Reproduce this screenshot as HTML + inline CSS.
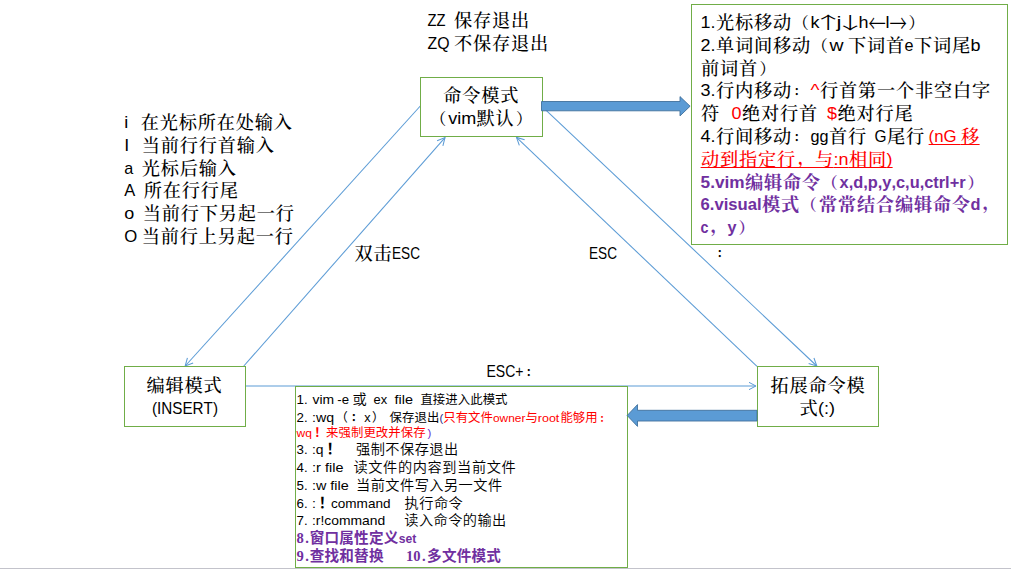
<!DOCTYPE html>
<html lang="zh-CN">
<head>
<meta charset="utf-8">
<title>vim 模式</title>
<style>
html,body{margin:0;padding:0;background:#fff;overflow:hidden}
svg{display:block}
text{white-space:pre;text-spacing-trim:space-all;font-kerning:none}
.ls{font-family:"Liberation Sans","Noto Sans CJK SC",sans-serif}
.lf{font-family:"Liberation Serif","Noto Serif CJK SC",serif}
.ar{font-family:"Noto Sans CJK SC","Liberation Sans",sans-serif}
.cj{font-family:"Liberation Serif","Noto Serif CJK SC","Noto Sans CJK SC",serif}
.cs{font-family:"Liberation Sans","Noto Sans CJK SC","Noto Serif CJK SC",sans-serif}
</style>
</head>
<body>
<svg width="1011" height="569" viewBox="0 0 1011 569">
<rect x="0" y="0" width="1011" height="569" fill="#fff"/>
<line x1="420.3" y1="106.0" x2="185.2" y2="366.0" stroke="#5b9bd5" stroke-width="1.05"/>
<polyline points="187.42,357.79 185.2,366.0 193.14,362.97" fill="none" stroke="#5b9bd5" stroke-width="1.05"/>
<line x1="243.8" y1="366.0" x2="445.0" y2="137.6" stroke="#5b9bd5" stroke-width="1.05"/>
<polyline points="442.89,145.83 445.0,137.6 437.10,140.73" fill="none" stroke="#5b9bd5" stroke-width="1.05"/>
<line x1="543.0" y1="107.3" x2="816.8" y2="366.0" stroke="#5b9bd5" stroke-width="1.05"/>
<polyline points="808.64,363.60 816.8,366.0 813.95,357.99" fill="none" stroke="#5b9bd5" stroke-width="1.05"/>
<line x1="757.0" y1="366.3" x2="516.5" y2="137.4" stroke="#5b9bd5" stroke-width="1.05"/>
<polyline points="524.65,139.83 516.5,137.4 519.33,145.42" fill="none" stroke="#5b9bd5" stroke-width="1.05"/>
<line x1="246.0" y1="386.0" x2="755.9" y2="386.0" stroke="#5b9bd5" stroke-width="1.0"/>
<polyline points="749.01,389.66 755.9,386.0 749.01,382.34" fill="none" stroke="#5b9bd5" stroke-width="1.0"/>
<rect x="420.5" y="77.5" width="122" height="59" fill="#fff" stroke="#70ad47" stroke-width="1"/>
<rect x="124.5" y="366.5" width="121" height="60" fill="#fff" stroke="#70ad47" stroke-width="1"/>
<rect x="757.5" y="366.5" width="121" height="60" fill="#fff" stroke="#70ad47" stroke-width="1"/>
<rect x="691.5" y="4.5" width="316" height="240" fill="#fff" stroke="#70ad47" stroke-width="1"/>
<rect x="295.5" y="386.5" width="332" height="181" fill="#fff" stroke="#70ad47" stroke-width="1"/>
<polygon points="541.5,101.5 680,101.5 680,96.6 690.1,106.2 680,115.9 680,110.8 541.5,110.8" fill="#5b9bd5" stroke="#41719c" stroke-width="0.9" stroke-linejoin="miter"/>
<polygon points="757,410.3 637.5,410.3 637.5,404.6 627.2,415.5 637.5,426.4 637.5,421 757,421" fill="#5b9bd5" stroke="#41719c" stroke-width="0.9" stroke-linejoin="miter"/>
<rect x="0" y="568" width="1011" height="1" fill="#c3c3cb"/>
<g><text x="427.6" y="26" font-size="17.39" class="ls" textLength="26.19" lengthAdjust="spacingAndGlyphs">ZZ  </text><text x="454 473 492 511" y="26.6" font-size="18.2" class="cj" font-weight="500">保存退出</text></g>
<g><text x="427.6" y="49" font-size="17.39" class="ls" textLength="26.4" lengthAdjust="spacingAndGlyphs">ZQ </text><text x="454 473 492 511 530" y="49.6" font-size="18.2" class="cj" font-weight="500">不保存退出</text></g>
<g><text x="124.3" y="128" font-size="17.39" class="ls" textLength="19.01" lengthAdjust="spacingAndGlyphs">i   </text><text x="140.7 159.7 178.7 197.7 216.7 235.7 254.7 273.7" y="128.6" font-size="18.2" class="cj" font-weight="500">在光标所在处输入</text></g>
<g><text x="124.3" y="151" font-size="17.39" class="ls" textLength="20" lengthAdjust="spacingAndGlyphs">I   </text><text x="141.7 160.7 179.7 198.7 217.7 236.7 255.7" y="151.6" font-size="18.2" class="cj" font-weight="500">当前行行首输入</text></g>
<g><text x="124.3" y="174" font-size="17.39" class="ls" textLength="17.99" lengthAdjust="spacingAndGlyphs">a  </text><text x="141.7 160.7 179.7 198.7 217.7" y="174.6" font-size="18.2" class="cj" font-weight="500">光标后输入</text></g>
<g><text x="124.3" y="196" font-size="17.39" class="ls" textLength="20.16" lengthAdjust="spacingAndGlyphs">A  </text><text x="143.7 162.7 181.7 200.7 219.7" y="196.6" font-size="18.2" class="cj" font-weight="500">所在行行尾</text></g>
<g><text x="124.3" y="219" font-size="17.39" class="ls" textLength="19.99" lengthAdjust="spacingAndGlyphs">o  </text><text x="142.7 161.7 180.7 199.7 218.7 237.7 256.7 275.7" y="219.6" font-size="18.2" class="cj" font-weight="500">当前行下另起一行</text></g>
<g><text x="124.3" y="242" font-size="17.39" class="ls" textLength="17.64" lengthAdjust="spacingAndGlyphs">O </text><text x="141.7 160.7 179.7 198.7 217.7 236.7 255.7 274.7" y="242.6" font-size="18.2" class="cj" font-weight="500">当前行上另起一行</text></g>
<g><text x="443.3 462.3 481.3 500.3" y="101.6" font-size="18.2" class="cj" font-weight="500">命令模式</text></g>
<g><text x="430.34" y="124" font-size="15.96" class="cj" font-weight="500">（</text><text x="448.2" y="124" font-size="17.39" class="ls" textLength="28" lengthAdjust="spacingAndGlyphs">vim</text><text x="476.6 495.6" y="124.6" font-size="18.2" class="cj" font-weight="500">默认</text><text x="516.1" y="124" font-size="15.96" class="cj" font-weight="500">）</text></g>
<g><text x="146.6 165.6 184.6 203.6" y="391.6" font-size="18.2" class="cj" font-weight="500">编辑模式</text></g>
<g><text x="152" y="414" font-size="17.39" class="ls" textLength="66" lengthAdjust="spacingAndGlyphs">(INSERT)</text></g>
<g><text x="770.4 789.4 808.4 827.4 846.4" y="391.6" font-size="18.2" class="cj" font-weight="500">拓展命令模</text></g>
<g><text x="799.4" y="414.6" font-size="18.2" class="cj" font-weight="500">式</text><text x="818" y="414" font-size="17.39" class="ls" textLength="17" lengthAdjust="spacingAndGlyphs">(:)</text></g>
<g><text x="354.4 373.4" y="259.6" font-size="18.2" class="cj" font-weight="500">双击</text><text x="392" y="259" font-size="17.39" class="ls" textLength="28" lengthAdjust="spacingAndGlyphs">ESC</text></g>
<g><text x="589" y="259" font-size="17.39" class="ls" textLength="28" lengthAdjust="spacingAndGlyphs">ESC</text></g>
<g><text x="486.5" y="377" font-size="17.39" class="ls" textLength="37" lengthAdjust="spacingAndGlyphs">ESC+</text><text x="525.39" y="377" font-size="12.16" class="cj" font-weight="700">：</text></g>
<g><text x="716.49" y="258" font-size="12.16" class="cj" font-weight="700">：</text></g>
<g><text x="700.6" y="28" font-size="17.39" class="ls" textLength="15" lengthAdjust="spacingAndGlyphs">1.</text><text x="716 735 754 773" y="28.6" font-size="18.2" class="cj" font-weight="500">光标移动</text><text x="792.74" y="28" font-size="15.96" class="cj" font-weight="500">（</text><text x="810.6" y="28" font-size="17.39" class="ls" textLength="9" lengthAdjust="spacingAndGlyphs">k</text><text transform="translate(828.1,28.5) scale(1.9,1.0)" x="-8.4" y="0" font-size="16.8" class="ar" font-weight="200">↑</text><text x="836.6" y="28" font-size="17.39" class="ls" textLength="5" lengthAdjust="spacingAndGlyphs">j</text><text transform="translate(850.1,28.5) scale(1.9,1.0)" x="-8.4" y="0" font-size="16.8" class="ar" font-weight="200">↓</text><text x="858.6" y="28" font-size="17.39" class="ls" textLength="10" lengthAdjust="spacingAndGlyphs">h</text><text transform="translate(877.1,31.9) scale(1.0,1.35)" x="-8.65" y="0" font-size="17.3" class="ar" font-weight="300">←</text><text x="885.6" y="28" font-size="17.39" class="ls" textLength="4" lengthAdjust="spacingAndGlyphs">l</text><text transform="translate(898.1,31.9) scale(1.0,1.35)" x="-8.65" y="0" font-size="17.3" class="ar" font-weight="300">→</text><text x="908.5" y="28" font-size="15.96" class="cj" font-weight="500">）</text></g>
<g><text x="700.6" y="51" font-size="17.39" class="ls" textLength="15" lengthAdjust="spacingAndGlyphs">2.</text><text x="716 735 754 773 792" y="51.6" font-size="18.2" class="cj" font-weight="500">单词间移动</text><text x="811.74" y="51" font-size="15.96" class="cj" font-weight="500">（</text><text x="829.6" y="51" font-size="17.39" class="ls" textLength="19.39" lengthAdjust="spacingAndGlyphs">w </text><text x="848 867 886" y="51.6" font-size="18.2" class="cj" font-weight="500">下词首</text><text x="904.6" y="51" font-size="17.39" class="ls" textLength="9" lengthAdjust="spacingAndGlyphs">e</text><text x="914 933 952" y="51.6" font-size="18.2" class="cj" font-weight="500">下词尾</text><text x="970.6" y="51" font-size="17.39" class="ls" textLength="10" lengthAdjust="spacingAndGlyphs">b</text></g>
<g><text x="701 720 739" y="74.6" font-size="18.2" class="cj" font-weight="500">前词首</text><text x="759.5" y="74" font-size="15.96" class="cj" font-weight="500">）</text></g>
<g><text x="700.6" y="96" font-size="17.39" class="ls" textLength="15" lengthAdjust="spacingAndGlyphs">3.</text><text x="716 735 754 773" y="96.6" font-size="18.2" class="cj" font-weight="500">行内移动</text><text x="793.49" y="96" font-size="12.16" class="cj" font-weight="700">：</text><text x="810.6" y="96" font-size="17.39" class="ls" fill="#ff0000" textLength="9" lengthAdjust="spacingAndGlyphs">^</text><text x="820 839 858 877 896 915 934 953 972" y="96.6" font-size="18.2" class="cj" font-weight="500">行首第一个非空白字</text></g>
<g><text x="701" y="119.6" font-size="18.2" class="cj" font-weight="500">符</text><text x="719.6" y="119" font-size="17.39" class="ls">   </text><text x="731.6" y="119" font-size="17.39" class="ls" fill="#ff0000" textLength="10" lengthAdjust="spacingAndGlyphs">0</text><text x="742 761 780 799" y="119.6" font-size="18.2" class="cj" font-weight="500">绝对行首</text><text x="817.6" y="119" font-size="17.39" class="ls">  </text><text x="827.1" y="119" font-size="17.39" class="ls" fill="#ff0000" textLength="10" lengthAdjust="spacingAndGlyphs">$</text><text x="837.5 856.5 875.5 894.5" y="119.6" font-size="18.2" class="cj" font-weight="500">绝对行尾</text></g>
<g><text x="700.6" y="142" font-size="17.39" class="ls" textLength="15" lengthAdjust="spacingAndGlyphs">4.</text><text x="716 735 754 773" y="142.6" font-size="18.2" class="cj" font-weight="500">行间移动</text><text x="793.49" y="142" font-size="12.16" class="cj" font-weight="700">：</text><text x="810.6" y="142" font-size="17.39" class="ls" textLength="18" lengthAdjust="spacingAndGlyphs">gg</text><text x="829 848" y="142.6" font-size="18.2" class="cj" font-weight="500">首行</text><text x="866.03" y="142" font-size="17.39" class="ls" textLength="20.57" lengthAdjust="spacingAndGlyphs">  G</text><text x="887 906" y="142.6" font-size="18.2" class="cj" font-weight="500">尾行</text><text x="924.6" y="142" font-size="17.39" class="ls"> </text><text x="928.6" y="142" font-size="17.39" class="ls" fill="#ff0000" textLength="32.67" lengthAdjust="spacingAndGlyphs">(nG </text><rect x="928.6" y="144" width="32" height="1" fill="#ff0000"/><text x="961" y="142.6" font-size="18.2" class="cj" font-weight="500" fill="#ff0000">移</text><rect x="960.6" y="144" width="19" height="1" fill="#ff0000"/></g>
<g><text x="701 720 739 758 777" y="165.6" font-size="18.2" class="cj" font-weight="500" fill="#ff0000">动到指定行</text><text x="797.5" y="163.67" font-size="18.05" class="cj" font-weight="500" fill="#ff0000">，</text><text x="815" y="165.6" font-size="18.2" class="cj" font-weight="500" fill="#ff0000">与</text><rect x="700.6" y="167" width="133" height="1" fill="#ff0000"/><text x="833.6" y="165" font-size="17.39" class="ls" fill="#ff0000" textLength="15" lengthAdjust="spacingAndGlyphs">:n</text><rect x="833.6" y="167" width="15" height="1" fill="#ff0000"/><text x="849 868" y="165.6" font-size="18.2" class="cj" font-weight="500" fill="#ff0000">相同</text><rect x="848.6" y="167" width="38" height="1" fill="#ff0000"/><text x="886.6" y="165" font-size="17.39" class="ls" fill="#ff0000" textLength="6" lengthAdjust="spacingAndGlyphs">)</text><rect x="886.6" y="167" width="6" height="1" fill="#ff0000"/></g>
<g><text x="700.6" y="188" font-size="17.39" class="ls" fill="#7030a0" font-weight="700" textLength="44" lengthAdjust="spacingAndGlyphs">5.vim</text><text x="745 764 783 802" y="188.6" font-size="18.2" class="cj" font-weight="700" fill="#7030a0">编辑命令</text><text x="821.74" y="188" font-size="15.96" class="cj" font-weight="700" fill="#7030a0">（</text><text x="839.6" y="188" font-size="17.39" class="ls" fill="#7030a0" font-weight="700" textLength="126" lengthAdjust="spacingAndGlyphs">x,d,p,y,c,u,ctrl+r</text><text x="967.5" y="188" font-size="15.96" class="cj" font-weight="700" fill="#7030a0">）</text></g>
<g><text x="700.6" y="210" font-size="17.39" class="ls" fill="#7030a0" font-weight="700" textLength="61" lengthAdjust="spacingAndGlyphs">6.visual</text><text x="762 781" y="210.6" font-size="18.2" class="cj" font-weight="700" fill="#7030a0">模式</text><text x="800.74" y="210" font-size="15.96" class="cj" font-weight="700" fill="#7030a0">（</text><text x="819 838 857 876 895 914 933 952" y="210.6" font-size="18.2" class="cj" font-weight="700" fill="#7030a0">常常结合编辑命令</text><text x="970.6" y="210" font-size="17.39" class="ls" fill="#7030a0" font-weight="700" textLength="10" lengthAdjust="spacingAndGlyphs">d</text><text x="982.5" y="208.67" font-size="18.05" class="cj" font-weight="700" fill="#7030a0">，</text></g>
<g><text x="700.6" y="233" font-size="17.39" class="ls" fill="#7030a0" font-weight="700" textLength="8" lengthAdjust="spacingAndGlyphs">c</text><text x="710.5" y="231.67" font-size="18.05" class="cj" font-weight="700" fill="#7030a0">，</text><text x="727.6" y="233" font-size="17.39" class="ls" fill="#7030a0" font-weight="700" textLength="9" lengthAdjust="spacingAndGlyphs">y</text><text x="738.5" y="233" font-size="15.96" class="cj" font-weight="700" fill="#7030a0">）</text></g>
<g><text x="296.5" y="404" font-size="13.36" class="ls" textLength="14.78" lengthAdjust="spacingAndGlyphs">1. </text><text x="312.6" y="404" font-size="13.36" class="ls" textLength="25.47" lengthAdjust="spacingAndGlyphs">vim </text><text x="337.3" y="404" font-size="13.36" class="ls" textLength="15.4" lengthAdjust="spacingAndGlyphs">-e </text><text x="352.43" y="404" font-size="14.2" class="cs" font-weight="350">或</text><text x="366.85" y="404" font-size="13.36" class="ls">  </text><text x="373.6" y="404" font-size="13.36" class="ls" textLength="20.74" lengthAdjust="spacingAndGlyphs">ex  </text><text x="394.6" y="404" font-size="13.36" class="ls" textLength="26.43" lengthAdjust="spacingAndGlyphs">file  </text><text x="420.42 432.87 445.32 457.77 470.22 482.67 495.12" y="404.3" font-size="12.4" class="cs" font-weight="400">直接进入此模式</text></g>
<g><text x="296.5" y="422" font-size="13.36" class="ls" textLength="14.78" lengthAdjust="spacingAndGlyphs">2. </text><text x="312" y="422" font-size="13.36" class="ls" textLength="22.01" lengthAdjust="spacingAndGlyphs">:wq</text><text x="335.47" y="422" font-size="12.26" class="cs">（</text><text x="350.56" y="422" font-size="12.41" class="cj" font-weight="700">：</text><text x="364.31" y="422" font-size="13.36" class="ls" textLength="6.32" lengthAdjust="spacingAndGlyphs">x</text><text x="372.1" y="422" font-size="12.26" class="cs">）</text><text x="385.29" y="422" font-size="13.36" class="ls"> </text><text x="389.62 402.07 414.52 426.98" y="422.3" font-size="12.4" class="cs" font-weight="400">保存退出</text><text x="439.4" y="422" font-size="11.35" class="ls" fill="#2a2a8a" textLength="3.76" lengthAdjust="spacingAndGlyphs">(</text><text x="443.18 455.63 468.08 480.53" y="422.3" font-size="12.4" class="cs" font-weight="400" fill="#ff0000">只有文件</text><text x="492.96" y="422" font-size="11.35" class="ls" fill="#ff0000" textLength="32.41" lengthAdjust="spacingAndGlyphs">owner</text><text x="525.4" y="422.3" font-size="12.4" class="cs" font-weight="400" fill="#ff0000">与</text><text x="537.82" y="422" font-size="11.35" class="ls" fill="#ff0000" textLength="21.55" lengthAdjust="spacingAndGlyphs">root</text><text x="560.4 572.85 585.3" y="422.3" font-size="12.4" class="cs" font-weight="400" fill="#ff0000">能够用</text><text x="599.34" y="422" font-size="10.54" class="cj" font-weight="700" fill="#ff0000">：</text></g>
<g><text x="296.5" y="437" font-size="11.35" class="ls" fill="#ff0000" textLength="15.38" lengthAdjust="spacingAndGlyphs">wq</text><text x="314.36" y="437.3" font-size="12.4" class="cs" font-weight="700" fill="#ff0000">！</text><text x="326.02 338.47 350.92 363.38 375.82 388.27 400.72 413.17" y="437.3" font-size="12.4" class="cs" font-weight="400" fill="#ff0000">来强制更改并保存</text><text x="427.6" y="437" font-size="11.35" class="ls" fill="#6a2ad0" textLength="3.76" lengthAdjust="spacingAndGlyphs">)</text></g>
<g><text x="296.5" y="454" font-size="13.36" class="ls" textLength="14.78" lengthAdjust="spacingAndGlyphs">3. </text><text x="312" y="454" font-size="13.36" class="ls" textLength="11.58" lengthAdjust="spacingAndGlyphs">:q</text><text x="326.5" y="454" font-size="14.6" class="cs" font-weight="700">！</text><text x="338.23" y="454" font-size="13.36" class="ls">   </text><text x="356.03 370.68 385.33 399.98 414.63 429.28 443.93" y="454" font-size="14.2" class="cs" font-weight="350">强制不保存退出</text></g>
<g><text x="296.5" y="472" font-size="13.36" class="ls" textLength="14.78" lengthAdjust="spacingAndGlyphs">4. </text><text x="312" y="472" font-size="13.36" class="ls" textLength="13.09" lengthAdjust="spacingAndGlyphs">:r </text><text x="325" y="472" font-size="13.36" class="ls" textLength="26.43" lengthAdjust="spacingAndGlyphs">file  </text><text x="353.5 368.3 383.1 397.9 412.7 427.5 442.3 457.1 471.9 486.7 501.5" y="472" font-size="14.2" class="cs" font-weight="350">读文件的内容到当前文件</text></g>
<g><text x="296.5" y="490" font-size="13.36" class="ls" textLength="14.78" lengthAdjust="spacingAndGlyphs">5. </text><text x="312" y="490" font-size="13.36" class="ls" textLength="18.33" lengthAdjust="spacingAndGlyphs">:w </text><text x="330.3" y="490" font-size="13.36" class="ls" textLength="22.42" lengthAdjust="spacingAndGlyphs">file </text><text x="356.03 370.68 385.33 399.98 414.63 429.28 443.93 458.58 473.23 487.88" y="490" font-size="14.2" class="cs" font-weight="350">当前文件写入另一文件</text></g>
<g><text x="296.5" y="508" font-size="13.36" class="ls" textLength="14.78" lengthAdjust="spacingAndGlyphs">6. </text><text x="312" y="508" font-size="13.36" class="ls" textLength="3.91" lengthAdjust="spacingAndGlyphs">:</text><text x="318.83" y="508" font-size="14.6" class="cs" font-weight="700">！</text><text x="330.56" y="508" font-size="13.36" class="ls"> </text><text x="331" y="508" font-size="13.36" class="ls" textLength="70.84" lengthAdjust="spacingAndGlyphs">command   </text><text x="404.62 419.27 433.93 448.57" y="508" font-size="14.2" class="cs" font-weight="350">执行命令</text></g>
<g><text x="296.5" y="525" font-size="13.36" class="ls" textLength="14.78" lengthAdjust="spacingAndGlyphs">7. </text><text x="312" y="525" font-size="13.36" class="ls" textLength="88.71" lengthAdjust="spacingAndGlyphs">:r!command    </text><text x="404.23 418.88 433.53 448.18 462.83 477.48 492.12" y="525" font-size="14.2" class="cs" font-weight="350">读入命令的输出</text></g>
<g><text x="296.5 305.3" y="543" font-size="14.6" class="lf" fill="#7030a0" font-weight="700">8.</text><text x="309.7 324.5 339.3 354.1 368.9 383.7" y="543" font-size="14.6" class="cs" font-weight="700" fill="#7030a0">窗口属性定义</text><text x="398.8" y="543" font-size="13.36" class="ls" fill="#7030a0" font-weight="700" textLength="17.6" lengthAdjust="spacingAndGlyphs">set</text></g>
<g><text x="296.5 305.3" y="561" font-size="14.6" class="lf" fill="#7030a0" font-weight="700">9.</text><text x="309.7 324.5 339.3 354.1 368.9" y="561" font-size="14.6" class="cs" font-weight="700" fill="#7030a0">查找和替换</text><text x="383.6" y="561" font-size="13.36" class="ls">    </text><text x="406 413.3 422.1" y="561" font-size="14.6" class="lf" fill="#7030a0" font-weight="700">10.</text><text x="427.1 441.9 456.7 471.5 486.3" y="561" font-size="14.6" class="cs" font-weight="700" fill="#7030a0">多文件模式</text></g>
</svg>
</body>
</html>
